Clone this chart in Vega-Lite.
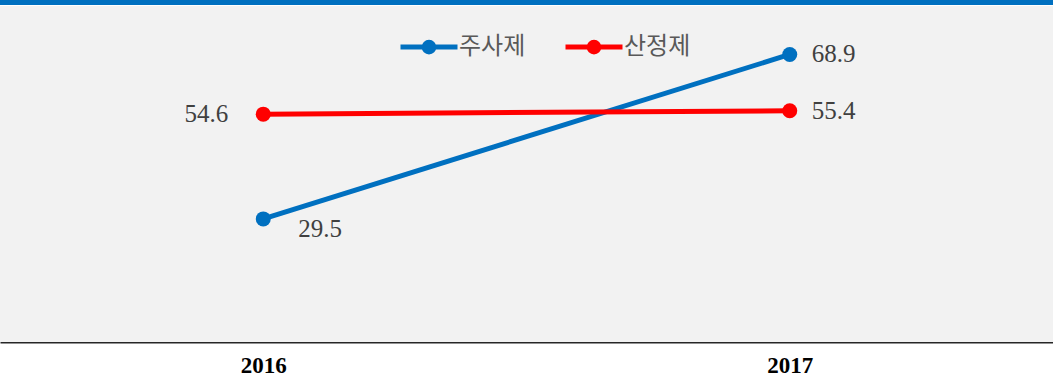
{
  "$schema": "https://vega.github.io/schema/vega-lite/v6.json",
  "width": 1053,
  "height": 342,
  "autosize": {"type": "none"},
  "padding": {"left": 0, "top": 0, "right": 0, "bottom": 44},
  "background": "white",
  "config": {"view": {"stroke": null}},
  "data": {"values": [
    {"year": "2016", "series": "주사제", "value": 29.5},
    {"year": "2017", "series": "주사제", "value": 68.9},
    {"year": "2016", "series": "산정제", "value": 54.6},
    {"year": "2017", "series": "산정제", "value": 55.4}
  ]},
  "encoding": {
    "x": {"field": "year", "type": "ordinal", "scale": {"type": "point", "padding": 0.5},
      "axis": {"title": null, "ticks": false, "labelAngle": 0, "domainColor": "#262626", "domainWidth": 2,
        "labelFont": "Liberation Serif", "labelFontSize": 23, "labelFontWeight": "bold", "labelColor": "#000000", "labelPadding": 12}},
    "y": {"field": "value", "type": "quantitative", "scale": {"domain": [0, 81.95], "nice": false, "zero": false}, "axis": null}
  },
  "layer": [
    {"mark": {"type": "rect", "color": "#f2f2f2"}, "encoding": {"x": null, "y": {"datum": 0, "type": "quantitative"}, "y2": {"datum": 80.51}}},
    {"mark": {"type": "rect", "color": "#0070c0"}, "encoding": {"x": null, "y": {"datum": 80.75, "type": "quantitative"}, "y2": {"datum": 81.95}}},
    {"mark": {"type": "line", "strokeWidth": 5},
      "encoding": {"color": {"field": "series", "type": "nominal",
        "scale": {"domain": ["주사제", "산정제"], "range": ["#0070c0", "#ff0000"]},
        "legend": {"title": null, "orient": "none", "direction": "horizontal", "legendX": 398, "legendY": 16,
          "symbolType": "M-1,0L1,0M-0.17,0A0.17,0.17,0,1,1,0.17,0A0.17,0.17,0,1,1,-0.17,0Z",
          "symbolSize": 3249, "symbolStrokeWidth": 5, "labelFont": "Noto Sans CJK KR", "labelFontSize": 24,
          "labelColor": "#595959", "labelOffset": -1, "columnPadding": 29, "padding": 0,
          "encode": {"symbols": {"update": {"fill": {"scale": "color", "field": "value"}, "stroke": {"scale": "color", "field": "value"}, "strokeWidth": {"value": 5}}}}}}}},
    {"mark": {"type": "point", "filled": true, "size": 225, "opacity": 1},
      "encoding": {"color": {"field": "series", "type": "nominal", "legend": null}}},
    {"transform": [{"filter": "datum.year == '2016' && datum.series == '산정제'"}],
      "mark": {"type": "text", "align": "right", "baseline": "middle", "dx": -35, "font": "Liberation Serif", "fontSize": 25, "color": "#404040"},
      "encoding": {"text": {"field": "value", "type": "quantitative", "format": ".1f"}}},
    {"transform": [{"filter": "datum.year == '2016' && datum.series == '주사제'"}],
      "mark": {"type": "text", "align": "left", "baseline": "middle", "dx": 35, "dy": 10, "font": "Liberation Serif", "fontSize": 25, "color": "#404040"},
      "encoding": {"text": {"field": "value", "type": "quantitative", "format": ".1f"}}},
    {"transform": [{"filter": "datum.year == '2017'"}],
      "mark": {"type": "text", "align": "left", "baseline": "middle", "dx": 22, "font": "Liberation Serif", "fontSize": 25, "color": "#404040"},
      "encoding": {"text": {"field": "value", "type": "quantitative", "format": ".1f"}}}
  ]
}
